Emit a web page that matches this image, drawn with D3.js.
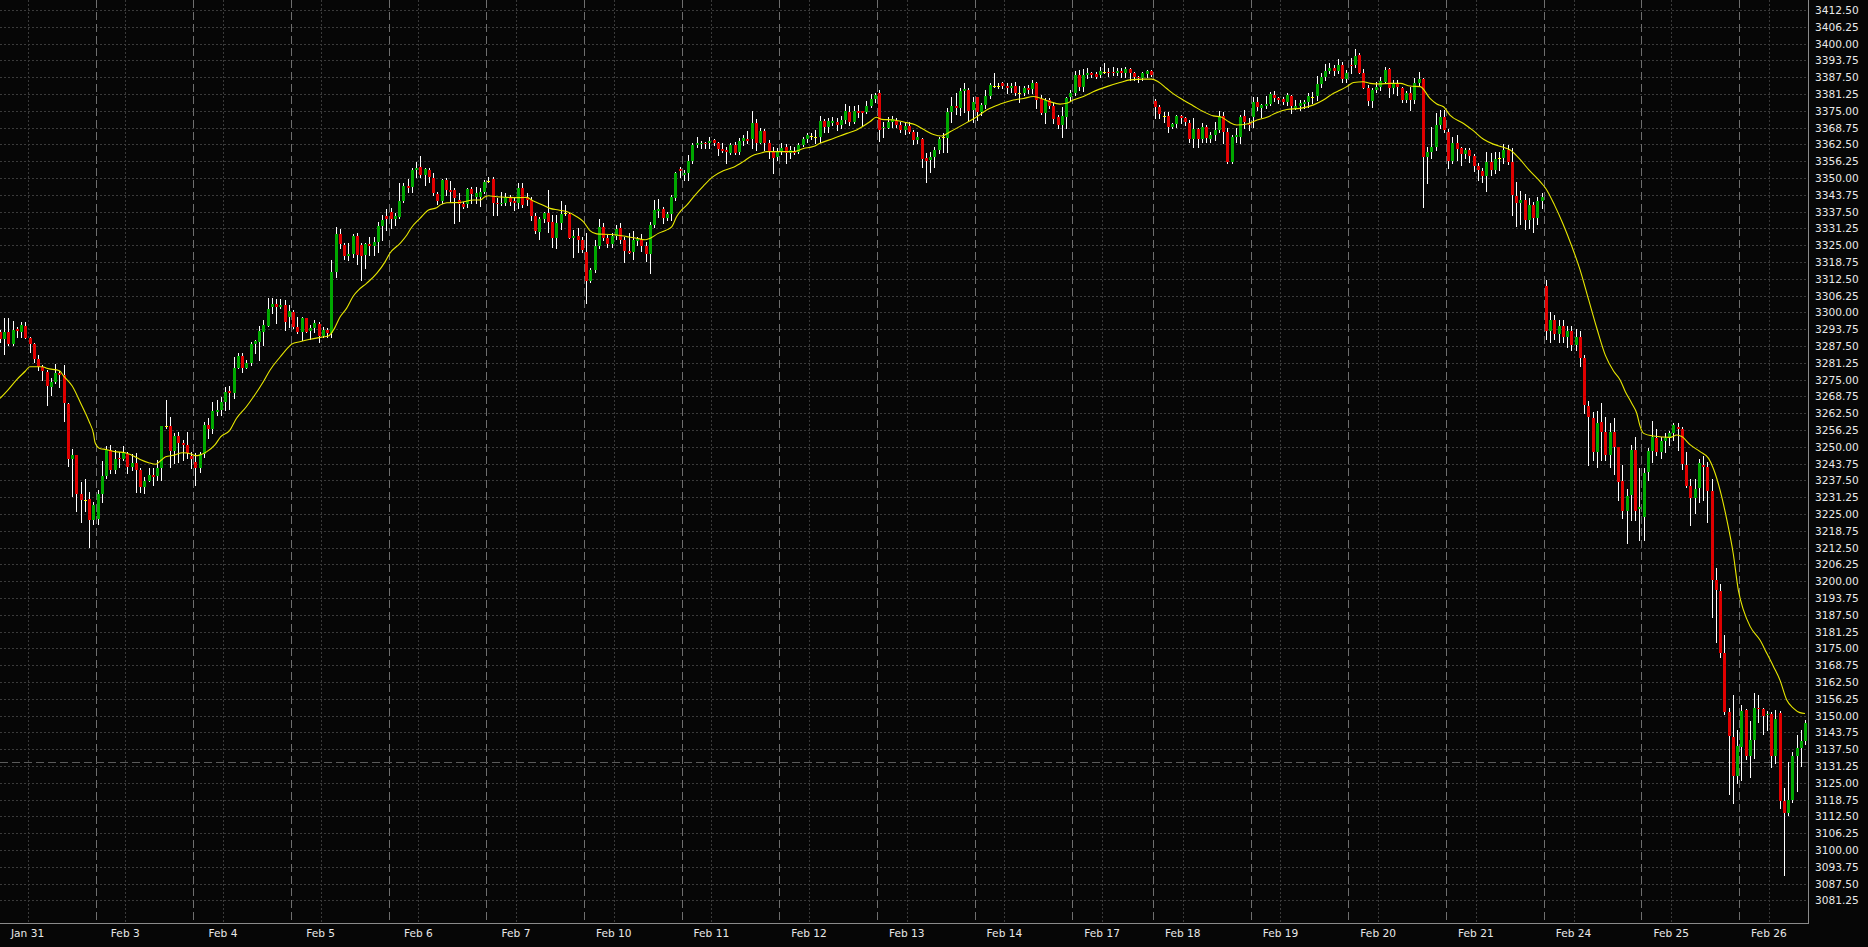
<!DOCTYPE html>
<html><head><meta charset="utf-8">
<script src="https://cdn.jsdelivr.net/npm/d3@7/dist/d3.min.js"></script>
<style>
html,body{margin:0;padding:0;background:#060606;overflow:hidden;}
svg{display:block;}
text{font-family:"DejaVu Sans",sans-serif;font-size:10.6px;fill:#e8e8e8;}
</style></head><body>
<svg id="chart" width="1868" height="947"></svg>
<script>
// ---- DATA (US500 H1, OHLC per hourly bar, grouped by session) ----
const dayLabels = ["Jan 31","Feb 3","Feb 4","Feb 5","Feb 6","Feb 7","Feb 10","Feb 11","Feb 12","Feb 13","Feb 14","Feb 17","Feb 18","Feb 19","Feb 20","Feb 21","Feb 24","Feb 25","Feb 26"];

const jan31 = [[3292.6,3293.4,3289.1,3290.0],[3290.0,3297.8,3284.5,3292.6],[3292.6,3297.8,3287.9,3288.2],[3288.2,3296.8,3287.9,3293.4],[3293.8,3294.7,3291.0,3293.2],[3292.6,3296.5,3291.0,3295.3],[3294.9,3296.3,3290.6,3290.6],[3290.6,3291.0,3285.4,3288.4],[3288.4,3288.5,3281.7,3282.6],[3282.6,3284.1,3278.6,3279.8],[3279.8,3280.4,3274.8,3278.2],[3277.9,3278.6,3265.5,3272.6],[3272.2,3275.5,3269.3,3274.2],[3274.1,3280.8,3273.6,3277.3],[3277.6,3278.3,3272.4,3276.8],[3276.7,3280.4,3259.7,3266.4],[3265.9,3266.2,3243.0,3245.3],[3245.3,3249.2,3231.7,3246.9],[3246.9,3246.9,3226.2,3232.6],[3232.6,3237.0,3222.1,3230.2],[3230.2,3238.0,3226.2,3230.2],[3230.4,3233.3,3212.8,3222.8],[3222.8,3229.6,3221.3,3228.3]];
const feb3 = [[3223.1,3233.9,3221.3,3232.4],[3232.4,3244.7,3229.6,3239.1],[3239.1,3250.4,3238.5,3248.8],[3248.8,3250.7,3240.1,3241.4],[3241.4,3248.8,3240.1,3245.4],[3245.9,3248.2,3242.6,3245.3],[3245.3,3250.3,3245.1,3247.8],[3247.3,3248.2,3240.1,3242.6],[3242.6,3247.2,3241.4,3244.1],[3243.8,3247.6,3233.3,3241.4],[3241.4,3242.0,3233.0,3234.9],[3234.9,3238.9,3232.9,3237.3],[3237.3,3242.0,3237.3,3239.5],[3239.5,3242.0,3235.8,3238.9],[3239.2,3245.1,3237.6,3242.2],[3242.2,3257.7,3237.6,3257.7],[3257.7,3267.4,3257.1,3257.7],[3257.7,3261.2,3242.6,3248.5],[3248.5,3255.0,3243.8,3254.0],[3254.0,3255.6,3244.5,3251.3],[3251.3,3252.5,3245.1,3250.7],[3250.7,3255.4,3245.7,3247.6],[3246.6,3248.2,3242.0,3245.3]];
const feb4 = [[3244.5,3247.6,3235.8,3242.0],[3242.0,3248.2,3240.7,3247.2],[3247.2,3259.3,3246.3,3258.1],[3258.1,3260.6,3253.1,3256.7],[3256.5,3266.8,3255.0,3263.3],[3263.1,3267.4,3261.8,3263.7],[3263.7,3268.6,3261.8,3266.8],[3266.8,3272.4,3263.7,3270.5],[3270.9,3272.6,3263.9,3269.9],[3270.1,3283.3,3268.3,3279.5],[3279.2,3285.0,3279.2,3283.8],[3283.8,3284.8,3277.9,3279.4],[3279.4,3282.3,3279.2,3281.3],[3281.3,3288.9,3280.4,3288.2],[3288.2,3289.9,3284.8,3289.3],[3289.1,3294.9,3282.3,3293.1],[3292.8,3297.2,3287.9,3295.3],[3295.1,3305.5,3295.0,3301.3],[3302.1,3305.5,3299.6,3303.1],[3303.1,3305.0,3295.9,3302.1],[3302.1,3304.8,3301.5,3302.7],[3302.7,3304.6,3293.4,3296.5],[3298.4,3302.7,3294.7,3300.5]];
const feb5 = [[3300.3,3301.0,3294.1,3294.4],[3294.4,3298.4,3292.2,3292.8],[3292.8,3298.4,3289.7,3297.8],[3297.8,3298.0,3292.6,3292.8],[3293.2,3295.3,3290.0,3294.3],[3294.3,3297.2,3292.8,3295.9],[3295.7,3296.5,3289.1,3291.2],[3291.2,3294.7,3290.7,3293.5],[3293.5,3294.1,3291.0,3292.2],[3292.2,3319.5,3291.0,3314.9],[3315.1,3331.6,3313.0,3329.0],[3329.0,3330.9,3323.8,3325.4],[3325.0,3325.7,3319.7,3321.1],[3321.1,3326.0,3319.5,3321.7],[3321.7,3329.2,3320.5,3328.4],[3328.4,3329.4,3318.0,3321.3],[3325.1,3325.9,3312.0,3321.1],[3321.3,3326.0,3316.6,3325.3],[3325.3,3327.9,3321.3,3324.7],[3324.7,3327.9,3321.3,3326.3],[3326.3,3333.7,3322.6,3332.1],[3332.1,3336.2,3326.9,3334.4],[3335.9,3338.3,3330.6,3334.7]];
const feb6 = [[3337.5,3338.7,3331.3,3334.7],[3334.7,3337.1,3332.5,3335.9],[3335.4,3348.0,3335.0,3341.4],[3341.4,3348.0,3341.2,3347.0],[3347.0,3349.5,3344.7,3346.4],[3346.8,3353.6,3344.9,3353.0],[3353.0,3356.1,3350.5,3353.6],[3354.0,3358.2,3350.5,3351.1],[3351.1,3353.6,3347.4,3353.3],[3352.9,3353.6,3348.6,3350.2],[3350.1,3352.0,3343.7,3344.3],[3344.0,3344.7,3340.2,3341.4],[3341.4,3349.5,3340.6,3349.2],[3349.2,3349.9,3343.7,3345.5],[3345.5,3349.0,3341.2,3344.9],[3345.5,3346.1,3333.1,3342.7],[3341.8,3344.3,3334.1,3340.2],[3340.2,3341.2,3338.7,3339.3],[3340.2,3346.1,3339.3,3345.8],[3345.8,3346.8,3340.6,3344.0],[3343.0,3346.8,3340.6,3344.5],[3342.8,3346.1,3339.7,3344.9],[3344.9,3349.2,3344.3,3348.4]];
const feb7 = [[3349.0,3350.5,3348.5,3349.0],[3349.5,3350.5,3336.2,3340.6],[3340.8,3342.4,3336.2,3340.2],[3340.2,3344.9,3339.9,3340.8],[3340.6,3344.3,3339.9,3342.8],[3342.8,3343.7,3339.9,3341.2],[3341.4,3343.0,3338.1,3340.6],[3340.6,3348.3,3338.7,3346.1],[3346.1,3348.0,3339.3,3339.9],[3342.8,3344.5,3339.9,3342.0],[3342.0,3343.0,3334.4,3335.9],[3335.9,3336.8,3329.7,3330.3],[3330.0,3335.4,3327.3,3334.7],[3334.7,3337.5,3333.7,3337.1],[3337.1,3345.5,3330.0,3333.7],[3333.7,3336.2,3324.2,3327.8],[3327.8,3336.2,3324.1,3333.1],[3333.1,3341.4,3330.9,3336.6],[3336.8,3339.9,3336.2,3336.8],[3336.6,3337.1,3327.5,3327.8],[3327.8,3330.6,3320.7,3328.4],[3328.4,3331.3,3322.6,3326.9],[3326.9,3328.2,3322.6,3323.2]];
const feb10 = [[3322.3,3329.4,3303.6,3311.8],[3311.8,3316.4,3311.4,3315.8],[3315.8,3326.9,3315.1,3324.7],[3324.7,3334.7,3323.8,3331.6],[3331.9,3333.4,3326.9,3327.6],[3327.6,3328.8,3324.4,3325.5],[3325.5,3329.4,3324.4,3328.4],[3328.4,3332.5,3327.2,3330.9],[3331.5,3333.1,3325.9,3326.9],[3326.9,3328.2,3318.9,3323.0],[3323.0,3329.4,3322.0,3322.2],[3322.6,3330.3,3319.9,3326.9],[3326.5,3328.2,3325.1,3327.2],[3327.2,3329.1,3323.0,3324.8],[3324.8,3326.3,3319.1,3321.6],[3321.7,3333.7,3314.8,3332.5],[3332.5,3341.8,3331.9,3338.1],[3337.9,3342.2,3335.6,3338.4],[3338.4,3339.3,3333.4,3335.2],[3335.2,3337.5,3334.4,3336.6],[3336.6,3343.7,3334.4,3343.1],[3342.4,3352.4,3341.8,3352.0],[3353.2,3354.0,3350.5,3352.7]];
const feb11 = [[3351.1,3353.0,3349.2,3352.0],[3352.0,3358.6,3349.2,3356.3],[3356.3,3363.1,3355.4,3362.3],[3362.3,3365.1,3361.6,3362.9],[3362.6,3363.9,3361.0,3363.1],[3363.1,3363.5,3361.0,3362.6],[3363.1,3365.1,3361.0,3363.8],[3364.1,3364.5,3362.3,3363.1],[3363.1,3363.5,3358.6,3360.8],[3360.8,3362.9,3359.8,3360.0],[3360.6,3361.6,3355.5,3359.8],[3359.4,3362.9,3358.9,3362.3],[3362.3,3363.5,3358.9,3359.4],[3359.8,3364.8,3358.9,3363.8],[3363.8,3366.0,3362.3,3364.8],[3364.4,3367.5,3362.9,3363.8],[3364.4,3374.9,3361.0,3370.3],[3370.3,3371.8,3360.4,3363.1],[3363.1,3368.5,3362.9,3367.5],[3367.5,3368.1,3360.4,3363.1],[3363.1,3364.1,3357.3,3359.8],[3359.8,3361.6,3352.0,3357.3],[3357.7,3361.0,3356.7,3359.8]];
const feb12 = [[3359.8,3363.1,3358.9,3361.0],[3361.6,3362.6,3355.7,3359.2],[3359.2,3361.9,3357.3,3360.4],[3360.2,3361.6,3358.9,3359.4],[3359.8,3362.9,3359.4,3362.3],[3362.3,3365.1,3361.9,3364.4],[3364.4,3366.9,3363.5,3366.0],[3365.6,3366.6,3364.4,3365.6],[3365.4,3367.9,3363.1,3365.4],[3365.4,3373.1,3363.5,3371.2],[3371.2,3371.8,3367.2,3369.1],[3369.1,3372.2,3367.2,3371.2],[3370.6,3372.6,3369.7,3371.2],[3371.0,3372.2,3367.9,3369.7],[3369.7,3373.1,3368.5,3371.6],[3371.6,3377.5,3370.6,3374.9],[3374.7,3376.8,3369.7,3371.0],[3371.0,3376.8,3370.3,3374.9],[3374.9,3377.2,3372.8,3374.3],[3374.9,3375.1,3369.7,3374.3],[3374.7,3378.8,3374.1,3376.9],[3376.9,3381.2,3376.3,3379.3],[3379.3,3381.7,3378.4,3380.9]];
const feb13 = [[3381.7,3382.7,3363.9,3367.9],[3368.5,3371.0,3365.1,3369.1],[3368.7,3372.8,3368.5,3371.0],[3371.0,3373.1,3369.1,3371.8],[3371.3,3372.2,3368.8,3369.7],[3369.7,3371.0,3367.2,3367.9],[3367.9,3370.3,3366.4,3369.4],[3369.4,3371.0,3366.6,3367.2],[3367.2,3367.9,3362.6,3364.1],[3364.1,3367.2,3362.9,3365.1],[3364.5,3364.8,3354.2,3357.1],[3357.3,3359.2,3348.6,3356.4],[3356.7,3359.8,3352.4,3357.7],[3357.7,3361.6,3354.2,3360.4],[3360.4,3365.4,3359.2,3364.5],[3365.4,3366.6,3359.8,3365.4],[3365.0,3376.0,3359.8,3374.7],[3374.7,3380.3,3371.0,3376.8],[3376.8,3381.5,3373.8,3376.2],[3376.2,3383.4,3373.4,3382.5],[3382.4,3385.5,3374.7,3383.0],[3382.7,3383.4,3371.6,3375.0],[3375.3,3380.0,3371.0,3378.4]];
const feb14 = [[3380.0,3380.2,3371.6,3374.7],[3374.7,3377.8,3373.4,3377.2],[3377.2,3382.7,3375.9,3380.5],[3380.5,3385.2,3379.6,3384.6],[3384.4,3389.2,3384.0,3384.4],[3384.4,3385.2,3383.4,3384.4],[3385.2,3385.8,3383.4,3384.2],[3384.2,3385.2,3381.5,3383.4],[3383.6,3385.2,3382.1,3384.2],[3384.3,3385.8,3380.9,3381.7],[3381.5,3384.2,3378.4,3381.5],[3381.5,3384.2,3380.9,3383.4],[3383.4,3384.6,3381.7,3382.7],[3383.1,3386.4,3381.7,3385.2],[3385.2,3385.8,3375.9,3379.0],[3379.3,3380.9,3373.8,3374.1],[3374.1,3379.6,3370.6,3379.0],[3379.0,3379.6,3375.9,3376.8],[3376.8,3377.8,3370.3,3371.8],[3372.6,3373.4,3368.5,3369.7],[3369.7,3376.5,3365.4,3373.1],[3372.8,3380.2,3368.5,3379.6],[3380.0,3382.7,3379.0,3381.7]];
const feb17 = [[3381.5,3389.9,3380.9,3388.3],[3388.3,3390.2,3382.7,3384.0],[3384.0,3390.4,3382.5,3388.3],[3388.3,3390.8,3387.1,3388.9],[3388.9,3389.6,3387.7,3388.3],[3388.6,3389.6,3387.1,3387.7],[3388.3,3391.4,3387.7,3389.9],[3389.6,3392.7,3388.9,3389.6],[3389.6,3390.8,3387.9,3388.9],[3389.6,3391.4,3388.3,3388.9],[3388.9,3390.8,3388.3,3389.9],[3389.8,3390.8,3387.7,3388.9],[3388.9,3391.2,3387.7,3390.5],[3390.5,3390.8,3386.5,3388.9],[3388.9,3389.6,3386.5,3387.7],[3387.7,3388.0,3385.8,3387.1],[3387.1,3389.3,3386.5,3388.9],[3388.6,3390.2,3387.7,3389.8],[3389.8,3390.2,3387.9,3388.3]];
const feb18 = [[3378.6,3379.3,3372.2,3376.5],[3376.5,3377.2,3372.2,3373.8],[3373.1,3374.7,3370.9,3373.1],[3373.1,3374.7,3367.2,3369.1],[3369.1,3370.6,3368.5,3370.1],[3370.1,3373.4,3369.1,3373.1],[3373.1,3373.4,3370.3,3372.4],[3372.4,3372.8,3369.7,3370.9],[3370.6,3371.6,3363.5,3364.4],[3364.4,3372.2,3361.6,3368.1],[3368.1,3368.5,3361.6,3364.4],[3364.5,3370.6,3363.5,3369.1],[3368.8,3369.7,3363.5,3364.8],[3364.4,3367.2,3363.5,3366.0],[3366.0,3370.9,3364.1,3367.9],[3367.9,3375.0,3367.2,3373.1],[3373.1,3374.7,3362.9,3367.2],[3367.2,3368.5,3355.4,3356.1],[3356.1,3366.0,3355.4,3365.4],[3365.1,3368.5,3363.5,3366.0],[3365.4,3373.4,3362.9,3372.6],[3373.1,3375.3,3368.5,3371.0],[3370.6,3372.2,3367.9,3369.7]];
const feb19 = [[3372.6,3380.0,3368.8,3378.4],[3378.4,3380.3,3375.3,3376.5],[3376.2,3377.5,3372.6,3377.2],[3376.9,3380.5,3376.2,3377.5],[3377.5,3382.1,3377.2,3381.2],[3380.9,3382.5,3378.8,3379.6],[3379.6,3380.3,3378.0,3379.0],[3379.3,3380.3,3377.5,3378.4],[3378.4,3381.5,3377.2,3380.9],[3380.5,3380.9,3374.3,3376.8],[3376.2,3379.0,3375.5,3376.8],[3376.9,3379.0,3375.3,3378.0],[3377.4,3379.0,3375.9,3378.1],[3378.1,3381.5,3376.5,3380.5],[3380.3,3382.1,3377.8,3380.3],[3380.5,3387.9,3379.0,3385.0],[3385.0,3389.2,3383.7,3387.7],[3387.7,3392.4,3386.5,3389.8],[3389.8,3392.7,3388.9,3391.0],[3391.0,3392.0,3388.3,3389.9],[3389.9,3394.1,3388.9,3392.0],[3392.0,3393.3,3385.8,3386.7],[3386.7,3390.2,3385.8,3388.9]];
const feb20 = [[3392.0,3394.5,3388.9,3391.7],[3392.0,3397.9,3391.4,3395.4],[3395.8,3396.4,3388.9,3389.2],[3389.2,3390.4,3383.4,3383.6],[3383.6,3384.6,3377.2,3378.6],[3378.6,3383.4,3376.5,3382.7],[3382.7,3385.8,3382.1,3384.0],[3384.0,3387.7,3382.7,3386.2],[3385.8,3391.4,3385.2,3390.2],[3390.4,3390.8,3380.3,3383.4],[3383.4,3386.5,3381.5,3385.2],[3385.2,3386.5,3380.9,3383.7],[3383.4,3384.0,3378.4,3379.0],[3379.0,3382.5,3378.4,3381.7],[3381.7,3384.0,3375.3,3379.0],[3379.0,3387.1,3377.8,3385.2],[3385.2,3389.6,3384.6,3386.7],[3386.7,3387.1,3339.3,3357.7],[3357.7,3361.6,3348.3,3359.8],[3359.8,3368.8,3357.3,3361.6],[3361.6,3374.3,3360.4,3369.7],[3369.7,3375.3,3368.5,3372.6],[3372.6,3375.3,3367.2,3367.9]];
const feb21 = [[3367.2,3368.1,3353.6,3356.4],[3356.4,3365.4,3355.7,3362.9],[3362.9,3366.0,3356.7,3360.7],[3361.0,3361.6,3354.8,3358.8],[3358.8,3361.0,3357.3,3360.4],[3360.4,3361.0,3356.1,3358.0],[3358.0,3358.9,3352.7,3354.5],[3354.5,3355.5,3349.2,3353.0],[3352.7,3353.6,3348.6,3350.8],[3350.8,3359.8,3345.3,3356.1],[3356.1,3359.4,3351.1,3353.0],[3353.0,3359.8,3352.0,3357.0],[3357.3,3359.8,3353.0,3357.3],[3357.3,3362.6,3355.7,3360.4],[3360.4,3362.3,3355.2,3356.1],[3356.1,3361.0,3336.2,3343.7],[3343.3,3348.6,3332.1,3340.6],[3340.6,3345.0,3333.0,3342.0],[3342.0,3344.0,3331.0,3334.5],[3334.5,3342.5,3331.5,3340.0],[3340.0,3341.0,3330.0,3335.0],[3335.0,3343.0,3333.0,3341.5],[3341.5,3344.5,3339.0,3343.0]];
const feb24 = [[3310.0,3312.0,3290.0,3293.0],[3293.0,3300.0,3289.0,3297.0],[3297.0,3299.0,3290.0,3292.0],[3292.0,3297.0,3289.0,3295.0],[3295.0,3297.0,3289.0,3291.0],[3291.0,3295.0,3287.0,3293.0],[3293.0,3295.0,3286.0,3288.0],[3288.0,3294.0,3286.0,3291.0],[3291.0,3293.0,3280.0,3283.0],[3283.0,3284.0,3262.4,3265.5],[3265.2,3267.1,3243.2,3261.2],[3260.9,3262.9,3245.1,3248.2],[3248.2,3263.4,3242.3,3259.0],[3259.1,3266.4,3245.1,3255.4],[3255.6,3261.2,3245.1,3246.9],[3246.9,3258.7,3242.3,3255.4],[3255.6,3260.6,3240.0,3249.8],[3249.8,3250.0,3230.2,3237.0],[3237.2,3243.2,3223.4,3226.2],[3226.2,3234.2,3214.3,3231.7],[3232.0,3250.6,3222.7,3248.8],[3248.8,3253.8,3222.7,3226.2],[3226.7,3242.0,3215.3,3227.7]];
const feb25 = [[3224.0,3242.0,3215.3,3240.1],[3240.7,3249.4,3237.6,3248.5],[3248.5,3259.6,3244.5,3253.5],[3253.1,3256.8,3246.9,3248.2],[3248.2,3253.7,3245.7,3252.2],[3252.2,3255.0,3248.2,3253.1],[3253.1,3256.0,3250.6,3255.2],[3255.0,3259.0,3252.5,3258.1],[3257.5,3258.7,3248.8,3256.5],[3256.5,3257.5,3241.6,3243.6],[3243.2,3248.2,3235.1,3235.4],[3235.4,3238.2,3220.9,3230.8],[3230.8,3237.9,3225.5,3234.2],[3234.5,3245.4,3229.6,3243.8],[3243.2,3246.6,3230.2,3242.3],[3242.3,3244.5,3222.1,3233.7],[3233.7,3237.9,3186.5,3200.4],[3200.4,3204.8,3177.5,3196.7],[3196.4,3198.9,3171.7,3173.4],[3173.4,3180.0,3150.5,3151.4],[3151.4,3152.7,3121.0,3142.4],[3141.9,3157.6,3117.3,3127.6],[3127.6,3144.6,3124.8,3138.6]];
const feb26 = [[3138.4,3153.9,3126.0,3151.8],[3152.0,3152.3,3133.7,3134.9],[3134.9,3147.9,3127.0,3141.1],[3141.1,3158.5,3134.1,3152.9],[3152.9,3157.6,3147.7,3152.3],[3152.3,3153.0,3143.0,3149.9],[3150.1,3151.7,3144.6,3150.7],[3150.7,3151.2,3130.9,3134.9],[3134.9,3152.0,3132.2,3148.6],[3150.8,3151.8,3115.5,3118.2],[3118.2,3122.9,3090.7,3113.8],[3113.8,3132.8,3112.9,3118.6],[3118.6,3136.5,3117.9,3134.9],[3134.9,3142.7,3122.0,3138.0],[3138.0,3144.6,3131.2,3140.5],[3140.5,3148.3,3139.6,3147.1]];

const sessions = [jan31,feb3,feb4,feb5,feb6,feb7,feb10,feb11,feb12,feb13,feb14,feb17,feb18,feb19,feb20,feb21,feb24,feb25,feb26];

// moving average (yellow line): bar index -> value
const maBar = [0,2,4,6,7,10,11,14,15,17,19,21,22,22.4,23.5,25,27,29.5,31,33,35,36.7,38,39,41,43,45,46,47,48.7,50.6,52,54,55.7,58,59.7,62,63.6,66,68,68.7,70.6,73,75.4,77.3,78.5,80.1,81.6,83.2,84.4,86.3,88.7,90.7,91.8,94.2,95.8,96.9,98.9,100.9,102.8,103.6,105.2,108.3,111.5,113,114.2,115,117,119.3,122.4,124,125.6,127.9,129.5,131.5,133.4,135.8,137.4,138.9,140.5,143.6,145.2,147.6,149.9,151.9,153.1,155,157,158.2,159.3,160.5,161.7,163.3,165.6,167.9,170.3,172.7,175,177,179,180.5,183.7,186.8,189.2,191.5,193.1,196.2,199.4,201.7,204.9,206.3,207.6,210.4,213.5,215.5,217.4,219.8,221.7,223.7,227.6,230,232.3,235.5,238.6,241,243.3,245.7,247.2,249.6,251.1,252.7,255.1,257.4,260.6,263.7,266.1,269.2,271.2,272.7,274.7,276.3,278.6,281,283.3,285.7,287.5,289.3,291.2,293.6,296,298.3,300.6,303,306.1,309.3,311.6,314,315.6,317.1,318.7,321,322.6,324.9,327.3,329.7,332,334.4,336.7,338.3,339.9,341.4,344.6,346.9,349.3,351.6,354,355.6,357.9,360,363,364,366,368,370,372,374,376,378,380,381.5,382.7,384.2,385.4,386.2,387,389.3,393.3,394.8,396,398,400.3,402.3,403.4,405,406.6,408.1,409.3,410.5,412.1,414.4,416,417.6,419.1,420.7,422.3,423.8,425];
const maValue = [3268.0,3271.4,3275.1,3278.2,3279.8,3279.8,3279.2,3278.3,3276.3,3272.6,3266.2,3259.3,3255.0,3251.5,3249.4,3249.0,3248.2,3247.8,3246.9,3245.3,3244.1,3243.5,3245.1,3246.3,3246.9,3247.8,3247.3,3246.7,3246.9,3248.2,3250.7,3253.8,3255.9,3260.6,3264.9,3268.6,3274.2,3278.6,3283.5,3287.2,3288.2,3289.1,3290.0,3290.7,3291.2,3293.4,3298.4,3301.5,3306.1,3308.3,3310.8,3314.5,3318.9,3322.0,3325.7,3328.8,3331.6,3335.0,3338.1,3338.9,3339.9,3340.8,3340.9,3341.8,3341.8,3343.0,3343.4,3343.0,3342.8,3342.7,3342.8,3341.4,3339.9,3338.7,3338.1,3337.5,3335.6,3333.7,3330.4,3329.2,3329.0,3328.8,3328.2,3327.6,3327.0,3327.6,3329.4,3330.7,3331.9,3335.6,3338.1,3339.9,3343.0,3347.0,3350.5,3352.7,3354.0,3356.1,3358.2,3359.2,3359.8,3359.8,3359.8,3361.0,3361.7,3362.9,3364.7,3366.6,3367.9,3371.0,3372.6,3371.8,3371.6,3370.6,3369.8,3368.1,3366.2,3365.6,3367.2,3370.6,3372.8,3375.3,3377.5,3379.0,3379.6,3380.3,3379.3,3378.4,3377.5,3377.8,3379.0,3380.3,3382.1,3384.0,3385.5,3386.5,3386.8,3386.8,3385.8,3383.3,3381.3,3379.0,3376.8,3374.7,3373.1,3372.7,3370.9,3369.7,3370.1,3371.6,3372.6,3374.3,3375.5,3375.9,3377.2,3379.0,3381.5,3382.7,3384.0,3385.5,3385.8,3385.2,3385.0,3385.2,3385.2,3384.2,3384.0,3379.6,3377.5,3376.5,3373.4,3370.3,3367.6,3364.4,3362.6,3361.4,3360.4,3356.9,3353.0,3348.0,3346.0,3340.0,3333.0,3325.0,3316.0,3305.0,3294.0,3284.0,3278.0,3274.8,3270.5,3266.2,3262.4,3257.5,3255.0,3254.0,3253.5,3254.4,3253.8,3250.7,3248.2,3245.7,3242.0,3233.9,3222.8,3210.3,3196.7,3189.3,3183.1,3178.1,3173.2,3168.2,3163.2,3155.8,3152.7,3151.1,3150.8];

const priceTicks = [3081.25,3087.50,3093.75,3100.00,3106.25,3112.50,3118.75,3125.00,3131.25,3137.50,3143.75,3150.00,3156.25,3162.50,3168.75,3175.00,3181.25,3187.50,3193.75,3200.00,3206.25,3212.50,3218.75,3225.00,3231.25,3237.50,3243.75,3250.00,3256.25,3262.50,3268.75,3275.00,3281.25,3287.50,3293.75,3300.00,3306.25,3312.50,3318.75,3325.00,3331.25,3337.50,3343.75,3350.00,3356.25,3362.50,3368.75,3375.00,3381.25,3387.50,3393.75,3400.00,3406.25,3412.50];
const refLevel = 3132.8;   // dashed horizontal level line

// ---- LAYOUT ----
const plotRight = 1808, plotBottom = 923;
const candles = [], dayStart = [];
sessions.forEach(s => { dayStart.push(candles.length); s.forEach(b => candles.push(b)); });
const n = candles.length;

const x = d3.scaleLinear().domain([0, n - 1]).range([0, 1805]);
const y = d3.scaleLinear().domain([3081.25, 3412.5]).range([900.4, 10]);

const svg = d3.select("#chart");
svg.append("rect").attr("width",1868).attr("height",947).attr("fill","#060606");

const grid = svg.append("g").attr("shape-rendering","crispEdges");
grid.selectAll("line.h").data(priceTicks).join("line")
  .attr("x1",0).attr("x2",plotRight)
  .attr("y1",d=>Math.round(y(d))+0.5).attr("y2",d=>Math.round(y(d))+0.5)
  .attr("stroke","#3a3a3a").attr("stroke-dasharray","2,2");
grid.selectAll("line.v").data(dayStart).join("line")
  .attr("x1",d=>Math.round(x(d+6.5))+0.5).attr("x2",d=>Math.round(x(d+6.5))+0.5)
  .attr("y1",0).attr("y2",plotBottom)
  .attr("stroke","#3a3a3a").attr("stroke-dasharray","2,2");
grid.selectAll("line.sep").data(dayStart.slice(1)).join("line")
  .attr("x1",d=>Math.round(x(d-0.5))+0.5).attr("x2",d=>Math.round(x(d-0.5))+0.5)
  .attr("y1",0).attr("y2",plotBottom)
  .attr("stroke","#6e6e6e").attr("stroke-dasharray","8,4");
grid.append("line").attr("x1",0).attr("x2",plotRight)
  .attr("y1",Math.round(y(refLevel))+0.5).attr("y2",Math.round(y(refLevel))+0.5)
  .attr("stroke","#5a5a5a").attr("stroke-dasharray","8,4");

const cg = svg.append("g").attr("shape-rendering","crispEdges");
cg.selectAll("line.wick").data(candles).join("line")
  .attr("x1",(d,i)=>Math.round(x(i))+0.5).attr("x2",(d,i)=>Math.round(x(i))+0.5)
  .attr("y1",d=>Math.round(y(Math.max(d[1],d[0],d[3])))).attr("y2",d=>Math.round(y(Math.min(d[2],d[0],d[3])))+1)
  .attr("stroke","#ffffff").attr("stroke-width",1);
cg.selectAll("rect.body").data(candles).join("rect")
  .attr("x",(d,i)=>Math.round(x(i))-1).attr("width",3)
  .attr("y",d=>Math.round(y(Math.max(d[0],d[3]))))
  .attr("height",d=>Math.max(1, Math.round(y(Math.min(d[0],d[3]))) - Math.round(y(Math.max(d[0],d[3])))))
  .attr("fill",d=> d[3]>d[0] ? "#00a800" : (d[3]<d[0] ? "#e00000" : "#ffff00"));

const maPts = maBar.map((b,i)=>[b, maValue[i]]);
svg.append("path").datum(maPts)
  .attr("d", d3.line().x(d=>x(d[0])).y(d=>y(d[1])).curve(d3.curveMonotoneX))
  .attr("fill","none").attr("stroke","#e8e800").attr("stroke-width",1.1);

const ax = svg.append("g").attr("shape-rendering","crispEdges");
ax.append("line").attr("x1",plotRight+0.5).attr("x2",plotRight+0.5).attr("y1",0).attr("y2",plotBottom+1).attr("stroke","#8a8a8a");
ax.append("line").attr("x1",0).attr("x2",plotRight+1).attr("y1",plotBottom+0.5).attr("y2",plotBottom+0.5).attr("stroke","#8a8a8a");

svg.append("g").selectAll("text").data(priceTicks).join("text")
  .attr("x",1815).attr("y",d=>Math.round(y(d))+4)
  .text(d=>d.toFixed(2));

svg.append("g").selectAll("text").data(dayStart).join("text")
  .attr("x",d=>x(d+6.5)).attr("y",937).attr("text-anchor","middle")
  .text((d,i)=>dayLabels[i]);
</script>
</body></html>
